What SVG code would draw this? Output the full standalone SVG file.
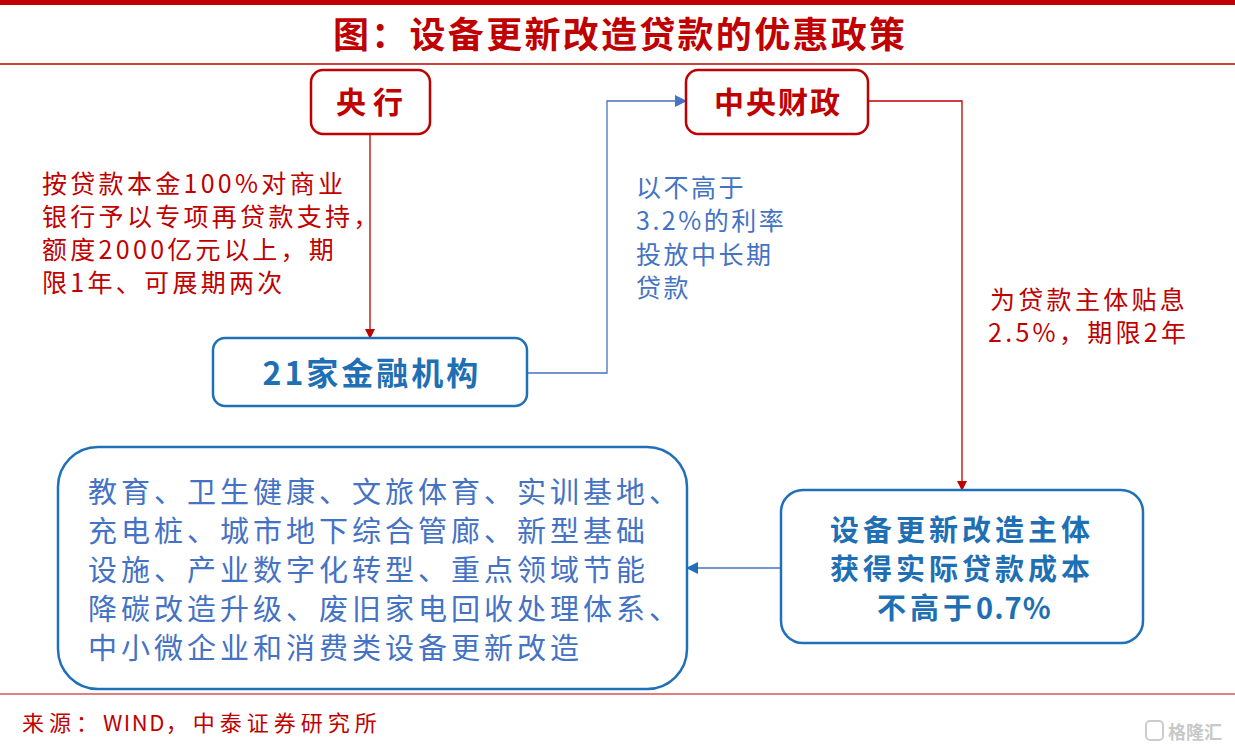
<svg xmlns="http://www.w3.org/2000/svg" width="1235" height="747" viewBox="0 0 1235 747">
<style>
text{font-family:"Noto Sans CJK SC","Liberation Sans",sans-serif;}
.title{fill:#c00000;font-size:36px;font-weight:bold;}
.rbox{fill:#fff;stroke:#c00000;stroke-width:2.5;}
.bbox{fill:#fff;stroke:#1f70b8;stroke-width:2.5;}
.rt{fill:#c00000;font-size:30px;font-weight:bold;}
.bt{fill:#1f6fb4;font-size:32px;font-weight:bold;letter-spacing:3px;text-anchor:middle;}
.bt2{fill:#1f6fb4;font-size:29px;font-weight:bold;letter-spacing:4px;}
.ann-r{fill:#c00000;font-size:25px;letter-spacing:3.3px;}
.ann-b{fill:#4472c4;font-size:25px;letter-spacing:2.5px;}
.big{fill:#4472c4;font-size:29px;letter-spacing:4px;}
.src{fill:#c00000;font-size:22px;letter-spacing:5px;}
.cr{fill:none;stroke:#c00000;stroke-width:1.3;}
.cb{fill:none;stroke:#4472c4;stroke-width:1.3;}
</style>
<defs>
<marker id="ar" markerWidth="10" markerHeight="10" refX="9" refY="5" orient="auto" markerUnits="userSpaceOnUse"><path d="M0,0 L10,5 L0,10 Z" fill="#c00000"/></marker>
<marker id="ab" markerWidth="12" markerHeight="12" refX="11" refY="6" orient="auto" markerUnits="userSpaceOnUse"><path d="M0,0 L12,6 L0,12 Z" fill="#4472c4"/></marker>
<marker id="ab2" markerWidth="12" markerHeight="12" refX="11" refY="6" orient="auto" markerUnits="userSpaceOnUse"><path d="M0,0 L12,6 L0,12 Z" fill="#1f70b8"/></marker>
</defs>
<rect x="0" y="0" width="1235" height="747" fill="#fff"/>
<rect x="0" y="0" width="1235" height="5" fill="#c00000"/>
<text class="title" x="333" y="48" textLength="572" lengthAdjust="spacing">图：设备更新改造贷款的优惠政策</text>
<line x1="0" y1="64" x2="1235" y2="64" stroke="#c00000" stroke-width="1.5"/>

<g id="connectors">
<path class="cr" d="M370,134 V338" marker-end="url(#ar)"/>
<path class="cb" d="M527,373 H607 V101 H686" marker-end="url(#ab)"/>
<path class="cr" d="M868,101 H962 V490" marker-end="url(#ar)"/>
<path class="cb" d="M781,568 H687" stroke="#1f70b8" marker-end="url(#ab2)"/>
</g>

<g id="node-pboc">
<rect class="rbox" x="311" y="70" width="119" height="64" rx="12"/>
<text class="rt" x="336" y="113" letter-spacing="7">央行</text>
</g>
<g id="node-finance">
<rect class="rbox" x="686" y="70" width="182" height="64" rx="12"/>
<text class="rt" x="714" y="113" letter-spacing="2">中央财政</text>
</g>
<g id="node-banks">
<rect class="bbox" x="213" y="338" width="314" height="68" rx="12"/>
<text class="bt" x="372" y="385">21家金融机构</text>
</g>
<g id="node-entity">
<rect class="bbox" x="781" y="490" width="362" height="153" rx="22"/>
<text class="bt2" x="830" y="541">设备更新改造主体</text>
<text class="bt2" x="830" y="580">获得实际贷款成本</text>
<text class="bt2" x="877" y="619">不高于<tspan letter-spacing="1">0.7%</tspan></text>
</g>
<g id="node-areas">
<rect class="bbox" x="58" y="447" width="629" height="242" rx="40"/>
<text class="big" x="88" y="503">教育、卫生健康、文旅体育、实训基地、</text>
<text class="big" x="88" y="542">充电桩、城市地下综合管廊、新型基础</text>
<text class="big" x="88" y="581">设施、产业数字化转型、重点领域节能</text>
<text class="big" x="88" y="620">降碳改造升级、废旧家电回收处理体系、</text>
<text class="big" x="88" y="659">中小微企业和消费类设备更新改造</text>
</g>

<g id="label-pboc">
<text class="ann-r" x="42" y="193">按贷款本金100%对商业</text>
<text class="ann-r" x="42" y="226">银行予以专项再贷款支持，</text>
<text class="ann-r" x="42" y="259">额度2000亿元以上，期</text>
<text class="ann-r" x="42" y="292">限1年、可展期两次</text>
</g>
<g id="label-banks">
<text class="ann-b" x="636" y="197">以不高于</text>
<text class="ann-b" x="636" y="230">3.2%的利率</text>
<text class="ann-b" x="636" y="264">投放中长期</text>
<text class="ann-b" x="636" y="297">贷款</text>
</g>
<g id="label-finance">
<text class="ann-r" x="990" y="309" letter-spacing="2.5">为贷款主体贴息</text>
<text class="ann-r" x="988" y="342" letter-spacing="2.5">2.5%，期限2年</text>
</g>

<line x1="0" y1="694" x2="1235" y2="694" stroke="#c00000" stroke-width="1.2"/>
<text class="src" x="22" y="731">来源：<tspan letter-spacing="1.5">WIND</tspan>，中泰证券研究所</text>
<g id="watermark">
<rect x="1146" y="721" width="17" height="19" rx="4" fill="none" stroke="#cccccc" stroke-width="2"/>
<text x="1168" y="739" font-size="18" fill="#c8c8c8" font-weight="bold">格隆汇</text>
</g>
</svg>
